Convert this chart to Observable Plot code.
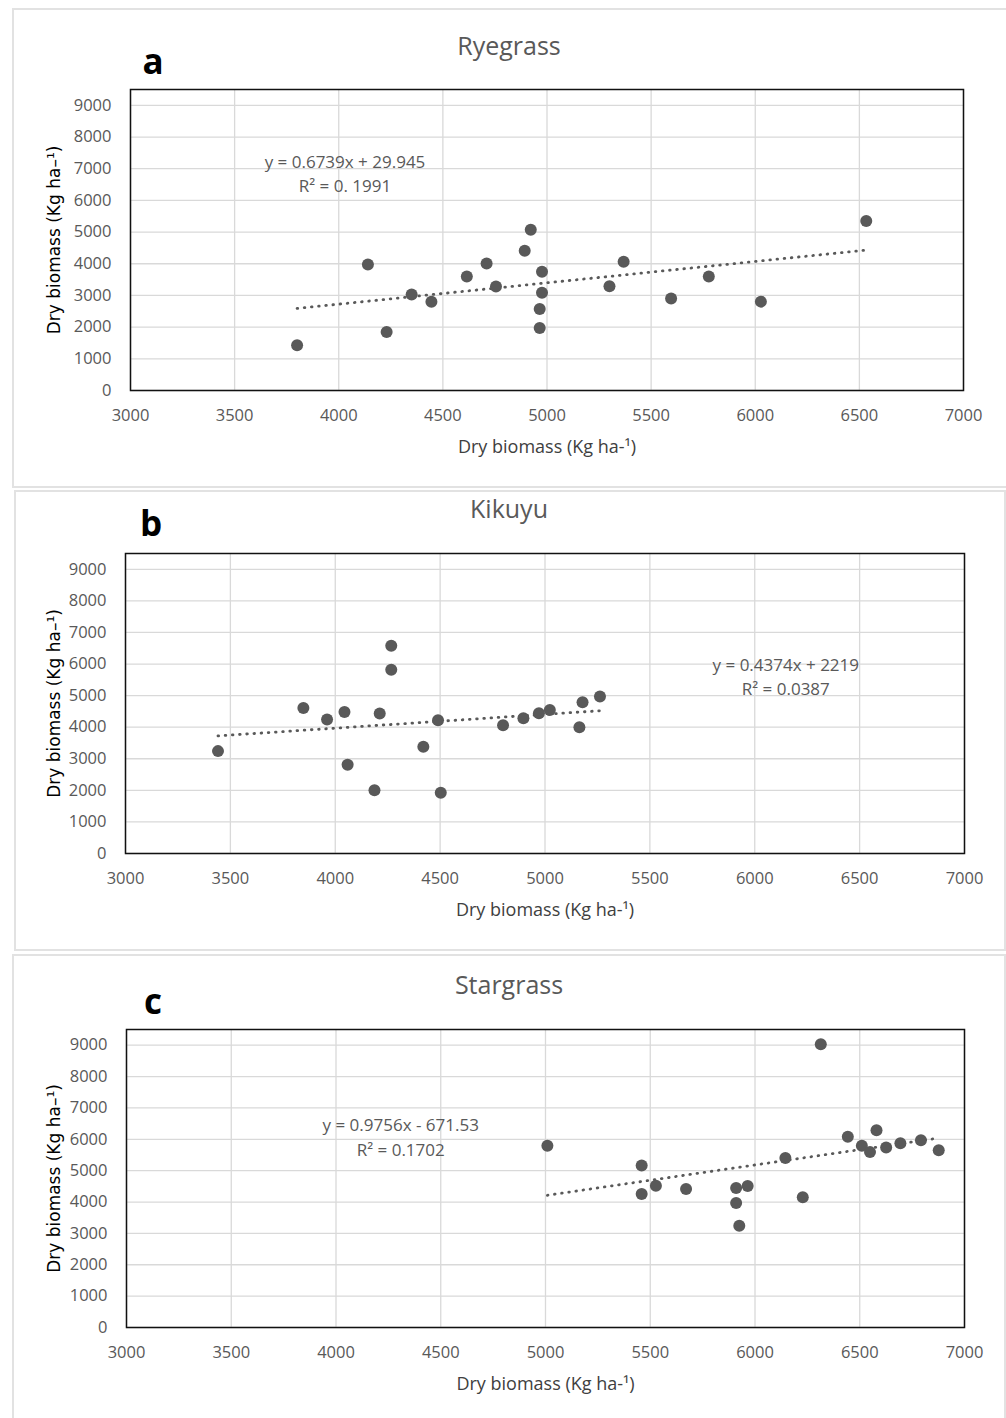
<!DOCTYPE html>
<html>
<head>
<meta charset="utf-8">
<script src="https://cdn.jsdelivr.net/npm/d3@7"></script>
<script src="https://cdn.jsdelivr.net/npm/@observablehq/plot@0.6"></script>
<style>
  html, body { margin: 0; padding: 0; background: #fff; overflow: hidden; }
  #page { position: relative; width: 1006px; height: 1418px; font-family: "Open Sans", sans-serif; }
  .box { position: absolute; box-sizing: border-box; border: 2px solid #e2e2e2; }
  .svgwrap { position: absolute; left: 0; }
  .title { position: absolute; transform: translate(-50%, -50%); color: #595959; font-size: 25px; white-space: nowrap; }
  .letter { position: absolute; transform: translate(-50%, -50%); color: #000; font-weight: 700; font-size: 35px; font-family: "Open Sans", sans-serif; }
</style>
</head>
<body>
<div id="page"></div>
<script>
// ---------- data ----------
const panelNames = ["Ryegrass", "Kikuyu", "Stargrass"];
const panelLetters = ["a", "b", "c"];

const ryegrassX = [3800, 4140, 4230, 4350, 4445, 4615, 4710, 4755, 4893, 4922, 4976, 4976, 4965, 4965, 5300, 5368, 5596, 5777, 6027, 6533];
const ryegrassY = [1430, 3980, 1850, 3030, 2800, 3600, 4005, 3280, 4410, 5070, 3745, 3085, 2575, 1975, 3290, 4065, 2905, 3600, 2805, 5350];

const kikuyuX = [3441, 3848, 3961, 4044, 4059, 4187, 4212, 4267, 4267, 4420, 4490, 4503, 4800, 4897, 4971, 5023, 5164, 5179, 5262];
const kikuyuY = [3242, 4611, 4242, 4484, 2811, 2000, 4432, 6579, 5821, 3379, 4221, 1926, 4063, 4284, 4442, 4547, 4000, 4789, 4968];

const stargrassX = [5009, 5459, 5459, 5527, 5671, 5910, 5910, 5925, 5965, 6145, 6228, 6314, 6443, 6510, 6549, 6580, 6626, 6694, 6792, 6877];
const stargrassY = [5792, 5167, 4257, 4521, 4415, 4447, 3971, 3240, 4511, 5400, 4151, 9032, 6078, 5792, 5591, 6290, 5739, 5877, 5972, 5654];

const slopes = [0.6739, 0.4374, 0.9756];
const intercepts = [29.945, 2219, -671.53];
const equationTexts = [
  "y = 0.6739x + 29.945\nR² = 0. 1991",
  "y = 0.4374x + 2219\nR² = 0.0387",
  "y = 0.9756x - 671.53\nR² = 0.1702"
];

const xTicks = [3000, 3500, 4000, 4500, 5000, 5500, 6000, 6500, 7000];
const yTicks = [0, 1000, 2000, 3000, 4000, 5000, 6000, 7000, 8000, 9000];
const xLabel = "Dry biomass (Kg ha-¹)";
const yLabel = "Dry biomass (Kg ha–¹)";

// ---------- layout ----------
const seriesX = [ryegrassX, kikuyuX, stargrassX];
const seriesY = [ryegrassY, kikuyuY, stargrassY];
const layouts = [
  { top: 0,   height: 480, mt: 89, mb: 90, ml: 130, mr: 43, eqX: 4030, eqY: 6880, titleY: 45,  letterX: 153, letterY: 60,
    box: { left: 12, top: 8, width: 1010, height: 480 } },
  { top: 480, height: 470, mt: 73, mb: 97, ml: 125, mr: 42, eqX: 6148, eqY: 5640, titleY: 508, letterX: 151, letterY: 522,
    box: { left: 14, top: 490, width: 992, height: 461 } },
  { top: 950, height: 468, mt: 79, mb: 91, ml: 126, mr: 42, eqX: 4309, eqY: 6110, titleY: 984, letterX: 153, letterY: 1000,
    box: { left: 12, top: 954, width: 994, height: 480 } }
];

const page = document.getElementById("page");
const gray = "#595959";
const fmt = d3.format("d");

layouts.forEach((L, i) => {
  const box = document.createElement("div");
  box.className = "box";
  Object.assign(box.style, { left: L.box.left + "px", top: L.box.top + "px", width: L.box.width + "px", height: L.box.height + "px" });
  page.appendChild(box);

  const data = seriesX[i].map((x, j) => ({ x, y: seriesY[i][j] }));
  const [xmin, xmax] = d3.extent(seriesX[i]);
  const trend = [xmin, xmax].map(x => ({ x, y: slopes[i] * x + intercepts[i] }));

  const chart = Plot.plot({
    width: 1006,
    height: L.height,
    marginTop: L.mt, marginBottom: L.mb, marginLeft: L.ml, marginRight: L.mr,
    style: { background: "transparent", color: gray, fontFamily: "'Open Sans', sans-serif", overflow: "visible" },
    x: { domain: [3000, 7000] },
    y: { domain: [0, 9500] },
    marks: [
      Plot.gridX(xTicks, { stroke: "#d9d9d9", strokeOpacity: 1, strokeWidth: 1.3 }),
      Plot.gridY(yTicks, { stroke: "#d9d9d9", strokeOpacity: 1, strokeWidth: 1.3 }),
      Plot.axisX({ ticks: xTicks, tickSize: 0, tickPadding: 19, fontSize: 16.5, label: null, tickFormat: fmt }),
      Plot.axisY({ ticks: yTicks, tickSize: 0, tickPadding: 19, fontSize: 16.5, label: null, tickFormat: fmt }),
      Plot.frame({ stroke: "#111", strokeWidth: 1.5 }),
      Plot.line(trend, { x: "x", y: "y", stroke: gray, strokeWidth: 2.8, strokeDasharray: "0.6,6.6", strokeLinecap: "round" }),
      Plot.dot(data, { x: "x", y: "y", r: 6, fill: gray, stroke: "none" }),
      Plot.text([equationTexts[i]], { x: () => L.eqX, y: () => L.eqY, text: d => d, fill: gray, fontSize: 17, lineHeight: 1.42, textAnchor: "middle", lineAnchor: "middle" }),
      Plot.text([xLabel], { frameAnchor: "bottom", text: d => d, dy: 57, lineAnchor: "middle", fill: "#404040", fontSize: 18 }),
      Plot.text([yLabel], { frameAnchor: "left", text: d => d, rotate: -90, dx: -(L.ml - 54), textAnchor: "middle", lineAnchor: "middle", fill: "#000", fontSize: 17, fontFamily: "DejaVu Sans" })
    ]
  });

  const wrap = document.createElement("div");
  wrap.className = "svgwrap";
  wrap.style.top = L.top + "px";
  wrap.appendChild(chart);
  page.appendChild(wrap);

  const t = document.createElement("div");
  t.className = "title";
  t.textContent = panelNames[i];
  Object.assign(t.style, { left: "509px", top: L.titleY + "px" });
  page.appendChild(t);

  const l = document.createElement("div");
  l.className = "letter";
  l.textContent = panelLetters[i];
  Object.assign(l.style, { left: L.letterX + "px", top: L.letterY + "px" });
  page.appendChild(l);
});
</script>
</body>
</html>
